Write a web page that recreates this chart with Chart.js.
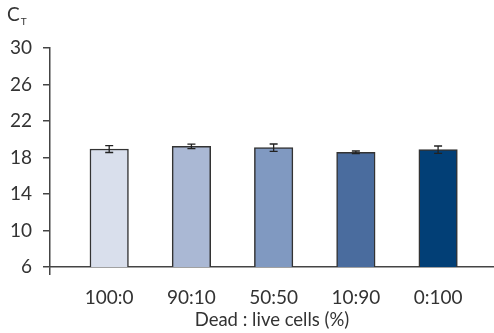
<!DOCTYPE html>
<html>
<head>
<meta charset="utf-8">
<script src="https://cdn.jsdelivr.net/npm/chart.js@4"></script>
<style>
  html, body { margin: 0; padding: 0; background: #fff; }
  #wrap { position: relative; width: 494px; height: 333px; }
  #ytitle {
    position: absolute; left: 7px; top: 2px;
    font-family: Lato, sans-serif; font-size: 19px; color: #333;
  }
  #ytitle sub { font-size: 10px; vertical-align: -4px; margin-left: 1px; }
</style>
</head>
<body>
<div id="wrap">
  <canvas id="chart" width="494" height="333"></canvas>
  <div id="ytitle">C<sub>T</sub></div>
</div>
<script>
// ===== datos =====
const categorias = ["100:0", "90:10", "50:50", "10:90", "0:100"];
const ctValores = [18.93, 19.22, 19.08, 18.57, 18.86];
const ctError = [0.38, 0.25, 0.4, 0.14, 0.4];
const yTicks = [6, 10, 14, 18, 22, 26, 30];
const colores = ["#d9dfec", "#aab8d4", "#8099c1", "#4a6c9e", "#023f76"];

const X_MIN = -0.72;
const X_MAX = 4.68;
const textColor = "#333333";

// barras de error
const errorBars = {
    id: "errorBars",
    afterDatasetsDraw(chart) {
        const { ctx, scales } = chart;
        ctx.save();
        ctx.strokeStyle = "#222";
        ctx.lineWidth = 1.3;
        ctValores.forEach((v, i) => {
            const x = scales.x.getPixelForValue(i);
            const yTop = scales.y.getPixelForValue(v + ctError[i]);
            const yBot = scales.y.getPixelForValue(v - ctError[i]);
            ctx.beginPath();
            ctx.moveTo(x, yTop);
            ctx.lineTo(x, yBot);
            ctx.moveTo(x - 4, yTop);
            ctx.lineTo(x + 4, yTop);
            ctx.moveTo(x - 4, yBot);
            ctx.lineTo(x + 4, yBot);
            ctx.stroke();
        });
        ctx.restore();
    },
};

new Chart(document.getElementById("chart"), {
    type: "bar",
    data: {
        datasets: [{
            data: ctValores.map((v, i) => ({ x: i, y: v })),
            backgroundColor: colores,
            borderColor: "#333",
            borderWidth: 1.5,
            borderSkipped: "bottom",
            barThickness: 38.5,
        }],
    },
    options: {
        responsive: false,
        animation: false,
        layout: { padding: { top: 48, right: 0, bottom: 0, left: 0 } },
        plugins: { legend: { display: false }, tooltip: { enabled: false } },
        scales: {
            x: {
                type: "linear",
                offset: false,
                min: X_MIN,
                max: X_MAX,
                afterBuildTicks: (scale) => {
                    scale.ticks = [{ value: X_MIN }].concat(
                        categorias.map((c, i) => ({ value: i })),
                    );
                },
                afterFit: (scale) => { scale.height = 66; },
                border: { display: true, color: "#444", width: 1.5 },
                grid: {
                    offset: false,
                    drawOnChartArea: false,
                    tickLength: 8,
                    lineWidth: 1.5,
                    color: (c) => c.tick && c.tick.value === X_MIN ? "#444" : "rgba(0,0,0,0)",
                },
                ticks: {
                    padding: 11,
                    color: textColor,
                    font: { family: "Lato", size: 19 },
                    callback: (v) => Number.isInteger(v) ? categorias[v] : "",
                },
                title: {
                    display: true,
                    text: "Dead : live cells (%)",
                    color: textColor,
                    font: { family: "Lato", size: 18.5 },
                    padding: { top: 0, bottom: 2 },
                },
            },
            y: {
                min: 6,
                max: 30,
                afterBuildTicks: (scale) => {
                    scale.ticks = yTicks.map((v) => ({ value: v }));
                },
                afterFit: (scale) => { scale.width = 50; },
                border: { display: true, color: "#444", width: 1.5 },
                grid: { drawOnChartArea: false, tickLength: 7, color: "#444", lineWidth: 1.5 },
                ticks: {
                    padding: 11,
                    color: textColor,
                    font: { family: "Lato", size: 19 },
                },
            },
        },
    },
    plugins: [errorBars],
});
</script>
</body>
</html>
